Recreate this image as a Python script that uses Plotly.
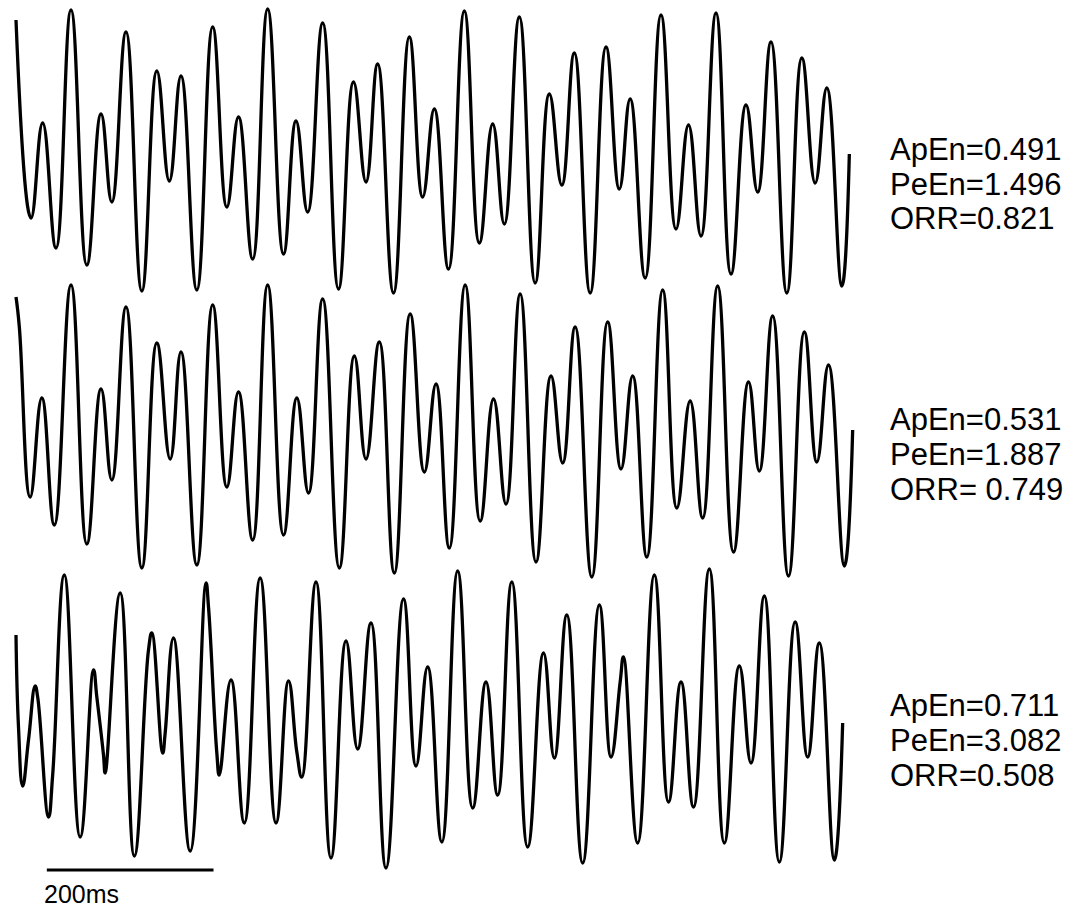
import plotly.graph_objects as go

# ---- data (time in ms, amplitude in arbitrary units) ----
t1 = [0, 18, 32, 48, 66, 85, 102, 115, 132, 151, 169, 184, 198, 217, 236, 253, 267, 284, 302, 321,
      336, 350, 368, 387, 405, 420, 434, 453, 472, 488, 502, 519, 538, 556, 572, 586, 604, 623, 640, 655,
      670, 689, 708, 724, 737, 755, 774, 792, 807, 822, 840, 858, 876, 890, 906, 925, 943, 959, 973, 991, 1000]
a1 = [130, -68, 27, -98, 140, -115, 36, -52, 118, -141, 79, -31, 74, -140, 123, -57, 33, -109, 141, -104,
      29, -62, 127, -139, 68, -32, 86, -143, 113, -47, 41, -119, 139, -93, 26, -74, 133, -133, 56, -35,
      97, -143, 103, -39, 51, -128, 135, -79, 25, -86, 137, -124, 45, -42, 108, -143, 92, -33, 62, -136, -4]

t2 = [0, 4, 17, 31, 46, 66, 85, 102, 115, 132, 151, 169, 185, 198, 217, 236, 253, 267, 284, 302, 321,
      337, 351, 368, 388, 406, 420, 436, 454, 473, 490, 504, 520, 539, 557, 573, 588, 605, 624, 642, 656,
      671, 691, 710, 726, 740, 757, 776, 793, 809, 824, 842, 861, 879, 892, 908, 927, 946, 961, 975, 994, 1004]
a2 = [133, 103, -67, 32, -95, 145, -114, 41, -50, 123, -138, 87, -29, 78, -135, 125, -57, 38, -110, 145, -105,
      32, -63, 131, -138, 74, -29, 88, -143, 116, -42, 46, -118, 145, -91, 31, -74, 136, -132, 54, -33,
      103, -147, 108, -39, 54, -127, 140, -78, 29, -88, 144, -122, 48, -41, 114, -146, 98, -32, 65, -136, 0]

t3 = [0, 3, 8, 15, 23, 26, 39, 44, 58, 77, 93, 97, 105, 107, 125, 142, 159, 163, 176, 179, 189, 209,
      228, 231, 241, 244, 258, 274, 293, 312, 327, 337, 343, 360, 378, 396, 410, 426, 444, 465, 480, 494,
      511, 530, 548, 564, 578, 595, 614, 633, 646, 661, 680, 700, 714, 725, 729, 746, 766, 783, 798, 813,
      832, 850, 868, 882, 898, 916, 935, 950, 964, 982, 992]
a3 = [80, -12, -71, -25, 29, 18, -102, -60, 140, -122, 45, 18, -40, -58, 122, -141, 65, 82, -38, -18, 77, -136,
      132, 108, -38, -60, 35, -108, 137, -108, 34, -37, -62, 133, -143, 74, -34, 92, -153, 116, -51, 48,
      -127, 144, -93, 33, -80, 133, -132, 62, -43, 100, -148, 110, -42, 33, 58, -128, 140, -87, 33, -92,
      146, -128, 49, -48, 119, -147, 93, -42, 72, -145, -8]

labels = [["ApEn=0.491", "PeEn=1.496", "ORR=0.821"],
          ["ApEn=0.531", "PeEn=1.887", "ORR= 0.749"],
          ["ApEn=0.711", "PeEn=3.082", "ORR=0.508"]]
scale_ms = 200
scale_label = "200ms"

W, H = 1073, 908

fig = go.Figure()
line_style = dict(color="black", width=3.3, shape="spline", smoothing=1.3)
for t, a, ax in [(t1, a1, "y"), (t2, a2, "y2"), (t3, a3, "y3")]:
    fig.add_trace(go.Scatter(x=t, y=a, yaxis=ax, mode="lines", line=line_style,
                             hoverinfo="skip", showlegend=False))

# scale bar (200 ms)
bar_start = 37
fig.add_shape(type="line", xref="x", yref="paper", x0=bar_start, x1=bar_start + scale_ms,
              y0=1 - 870 / H, y1=1 - 870 / H, line=dict(color="black", width=3))

font = dict(family="Liberation Sans, Arial, sans-serif", size=31, color="black")
annotations = []
group_centers = [149, 419, 705]
for g, lines in zip(group_centers, labels):
    for i, txt in enumerate(lines):
        annotations.append(dict(text=txt, xref="paper", yref="paper", x=888 / W,
                                y=1 - (g + 35 * i) / H, xanchor="left", yanchor="middle",
                                showarrow=False, font=font))
annotations.append(dict(text=scale_label, xref="paper", yref="paper", x=42 / W, y=1 - 894 / H,
                        xanchor="left", yanchor="middle", showarrow=False,
                        font=dict(family="Liberation Sans, Arial, sans-serif", size=25, color="black")))

fig.update_layout(
    width=W, height=H, margin=dict(l=0, r=0, t=0, b=0),
    paper_bgcolor="white", plot_bgcolor="white", showlegend=False,
    xaxis=dict(range=[-19.2, 1268.4], visible=False, domain=[0, 1], fixedrange=True),
    yaxis=dict(range=[-758, 150], visible=False, domain=[0, 1]),
    yaxis2=dict(range=[-478, 430], visible=False, overlaying="y"),
    yaxis3=dict(range=[-193, 715], visible=False, overlaying="y"),
    annotations=annotations,
)

fig.write_html("out.html")
